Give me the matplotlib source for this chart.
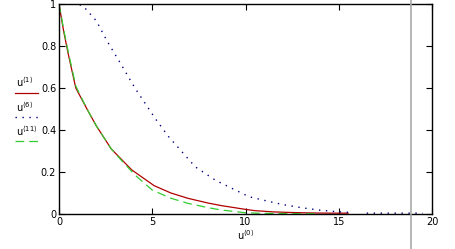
import numpy as np
import matplotlib
matplotlib.use("Agg")
import matplotlib.pyplot as plt
from matplotlib.lines import Line2D

x_red = [0, 0.25, 0.5, 0.9, 1.5, 2, 2.8, 3.9, 5.1, 6, 6.9, 8, 8.7, 10, 10.5, 11.5, 12.5, 13.5, 14.5, 15.5]
y_red = [1, 0.87, 0.76, 0.6, 0.5, 0.42, 0.31, 0.21, 0.135, 0.1, 0.075, 0.052, 0.04, 0.022, 0.016, 0.01, 0.007, 0.005, 0.004, 0.004]

x_blue = [0, 1, 1.3, 2, 2.6, 3.3, 4.07, 5.15, 5.86, 7.3, 8.4, 10.2, 11, 12, 13, 14, 15, 15.5, np.nan, 16.5, 19.5]
y_blue = [1, 1, 0.99, 0.92, 0.82, 0.717, 0.6, 0.456, 0.37, 0.225, 0.16, 0.082, 0.065, 0.045, 0.03, 0.018, 0.01, 0.008, np.nan, 0.004, 0.004]

x_green = [0, 0.25, 0.5, 0.9, 1.5, 2, 2.8, 3.3, 4.07, 5, 6, 6.9, 8, 8.7, 10, 11, 12, 13, 14]
y_green = [1, 0.88, 0.77, 0.61, 0.5, 0.42, 0.31, 0.26, 0.186, 0.114, 0.075, 0.051, 0.03, 0.019, 0.006, 0.003, 0.002, 0.001, 0.001]

x_ticks = [0, 5, 10, 15, 20]
y_ticks = [0, 0.2, 0.4, 0.6, 0.8, 1]
y_ticklabels = ["0", "0.2", "0.4", "0.6", "0.8", "1"]

fig = plt.figure(figsize=(4.55, 2.49), dpi=100)
ax = fig.add_axes([59/455, 35/249, 373/455, 210/249])
red = dict(color="#b00000", lw=0.9)
blue = dict(color="#000080", lw=1.0, linestyle=(0, (1, 4)))
green = dict(color="#33cc33", lw=0.9, linestyle=(0, (7, 4)))
ax.plot(x_red, y_red, **red)
ax.plot(x_blue, y_blue, **blue)
ax.plot(x_green, y_green, **green)
ax.set_xlim(0, 20)
ax.set_ylim(0, 1)
ax.set_xticks(x_ticks)
ax.set_yticks(y_ticks)
ax.set_yticklabels(y_ticklabels)
ax.tick_params(direction="in", top=True, right=True, labelsize=7, length=4, width=0.8, pad=2)
for s in ax.spines.values():
    s.set_linewidth(1.0)
ax.set_xlabel(r"$\mathrm{u}^{\langle 0\rangle}$", fontsize=7, labelpad=1)

# gray vertical line
fig.add_artist(Line2D([411/455, 411/455], [0, 1], color="#aaaaaa", lw=1.2, transform=fig.transFigure))

# legend on left
labels = [r"$\mathrm{u}^{\langle 1\rangle}$", r"$\mathrm{u}^{\langle 6\rangle}$", r"$\mathrm{u}^{\langle 11\rangle}$"]
styles = [red, blue, green]
ty = [82, 107, 131]
ly = [93, 117, 141]
for lab, st, t, l in zip(labels, styles, ty, ly):
    fig.text(16/455, 1 - t/249, lab, fontsize=7, va="center", ha="left")
    fig.add_artist(Line2D([15/455, 38/455], [1 - l/249, 1 - l/249], transform=fig.transFigure, **st))

fig.savefig("out.png", dpi=100)
